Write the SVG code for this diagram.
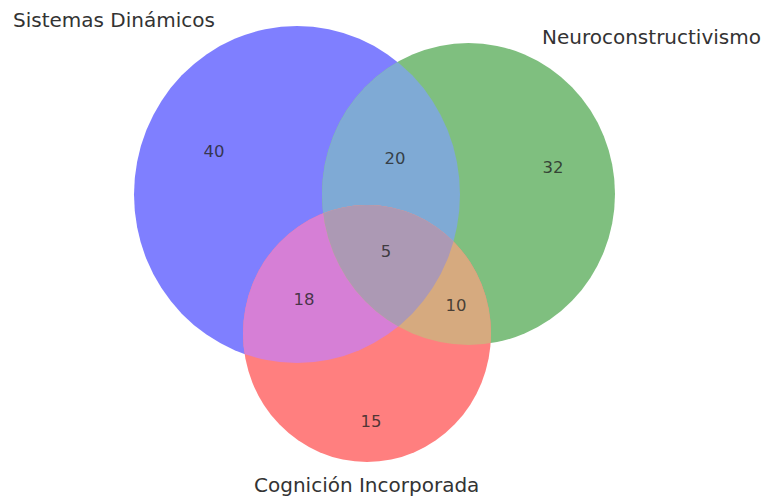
<svg xmlns="http://www.w3.org/2000/svg" width="762" height="497" viewBox="0 0 762 497">
<style>
.lbl{font-family:"DejaVu Sans","Liberation Sans",sans-serif;font-size:20px;fill:#333333}
.num{font-family:"DejaVu Sans","Liberation Sans",sans-serif;font-size:16.5px;fill:#222222;fill-opacity:0.8;text-anchor:middle;dominant-baseline:central}
</style>
<defs>
<ellipse id="eA" cx="297" cy="194.5" rx="163" ry="168.5"/>
<ellipse id="eB" cx="468.5" cy="194" rx="146.5" ry="151"/>
<ellipse id="eC" cx="367" cy="333.5" rx="124" ry="128.5"/>
<clipPath id="cA"><use href="#eA"/></clipPath>
<clipPath id="cB"><use href="#eB"/></clipPath>
</defs>
<rect width="762" height="497" fill="#ffffff"/>
<g id="set-sistemas"><use href="#eA" fill="#7f7fff"/></g>
<g id="set-neuro"><use href="#eB" fill="#7fbf7f"/></g>
<g id="set-cognicion"><use href="#eC" fill="#ff7f7f"/></g>
<g id="region-AB"><use href="#eB" fill="#7faad5" clip-path="url(#cA)"/></g>
<g id="region-AC"><use href="#eC" fill="#d67fd6" clip-path="url(#cA)"/></g>
<g id="region-BC"><use href="#eC" fill="#d6aa7f" clip-path="url(#cB)"/></g>
<g id="region-ABC" clip-path="url(#cA)"><use href="#eC" fill="#ac99b4" clip-path="url(#cB)"/></g>
<g id="labels">
<text class="lbl" x="13" y="27">Sistemas Dinámicos</text>
<text class="lbl" x="542" y="44">Neuroconstructivismo</text>
<text class="lbl" x="254" y="492">Cognición Incorporada</text>
</g>
<g id="counts">
<text class="num" x="214" y="151">40</text>
<text class="num" x="395" y="158">20</text>
<text class="num" x="553" y="167">32</text>
<text class="num" x="386" y="251">5</text>
<text class="num" x="304" y="299">18</text>
<text class="num" x="456" y="305">10</text>
<text class="num" x="371" y="421">15</text>
</g>
</svg>
